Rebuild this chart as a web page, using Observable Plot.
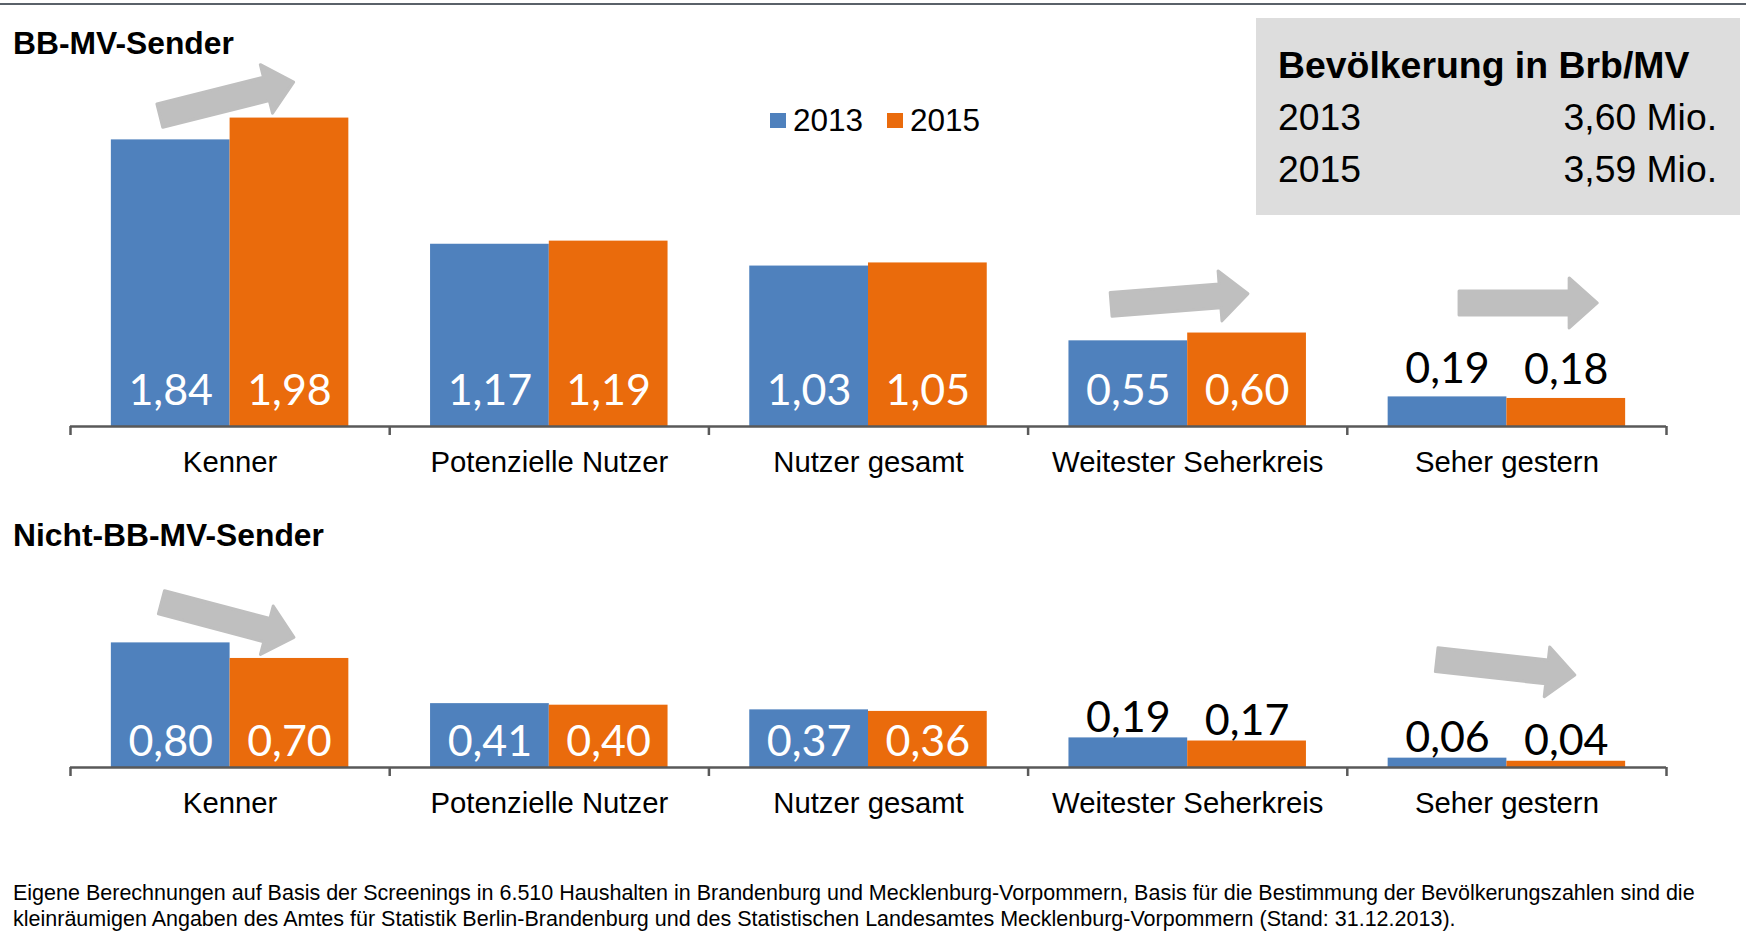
<!DOCTYPE html>
<html>
<head>
<meta charset="utf-8">
<script src="https://cdn.jsdelivr.net/npm/d3@7"></script>
<script src="https://cdn.jsdelivr.net/npm/@observablehq/plot@0.6"></script>
<style>
  body { margin: 0; background: #ffffff; }
  #root { position: relative; width: 1746px; height: 937px; overflow: hidden;
          font-family: "Liberation Sans", Arial, sans-serif; color: #000; }
  .abs { position: absolute; line-height: 1; white-space: nowrap; }
  svg.chart { position: absolute; left: 0; overflow: visible; }
</style>
</head>
<body>
<div id="root"></div>
<script>
// ---------------- data ----------------
const categories = ["Kenner", "Potenzielle Nutzer", "Nutzer gesamt", "Weitester Seherkreis", "Seher gestern"];
const years = ["2013", "2015"];
const bbmv2013 = [1.84, 1.17, 1.03, 0.55, 0.19];
const bbmv2015 = [1.98, 1.19, 1.05, 0.60, 0.18];
const nicht2013 = [0.80, 0.41, 0.37, 0.19, 0.06];
const nicht2015 = [0.70, 0.40, 0.36, 0.17, 0.04];
const popYears = ["2013", "2015"];
const popValues = ["3,60 Mio.", "3,59 Mio."];
const titleTop = "BB-MV-Sender";
const titleBottom = "Nicht-BB-MV-Sender";
const boxTitle = "Bevölkerung in Brb/MV";
const captionLines = [
  "Eigene Berechnungen auf Basis der Screenings in 6.510 Haushalten in Brandenburg und Mecklenburg-Vorpommern, Basis für die Bestimmung der Bevölkerungszahlen sind die",
  "kleinräumigen Angaben des Amtes für Statistik Berlin-Brandenburg und des Statistischen Landesamtes Mecklenburg-Vorpommern (Stand: 31.12.2013)."
];
// trend arrows (annotation): tail/tip value levels
const arrowsTop = [
  {category: "Kenner", from: 1.99, to: 2.21},
  {category: "Weitester Seherkreis", from: 0.78, to: 0.85},
  {category: "Seher gestern", from: 0.79, to: 0.79}
];
const arrowsBottom = [
  {category: "Kenner", from: 1.06, to: 0.83},
  {category: "Seher gestern", from: 0.69, to: 0.59}
];

// ---------------- style ----------------
const COLORS = {"2013": "#4F81BD", "2015": "#EA6B0C"};
const ARROW_FILL = "#BFBFBF";
const AXIS = "#595959";
const K = 155.77;            // px per unit (shared by both panels)
const PAD = 0.128;           // group padding inside a category slot
const arrowFrac = {"Kenner": [0.277, 0.705], "Weitester Seherkreis": [0.257, 0.695], "Seher gestern": [0.347, 0.789]};
const arrowFracBottom = {"Kenner": [0.282, 0.706], "Seher gestern": [0.277, 0.719]};

const root = document.getElementById("root");
const fmt = v => v.toFixed(2).replace(".", ",");

function addText(txt, {left, right, baseline, size, weight = "normal", family}) {
  const d = document.createElement("div");
  d.className = "abs";
  d.textContent = txt;
  d.style.fontSize = size + "px";
  d.style.fontWeight = weight;
  if (family) d.style.fontFamily = family;
  d.style.top = (baseline - 0.8465 * size) + "px";
  if (left != null) d.style.left = left + "px";
  if (right != null) d.style.right = right + "px";
  root.appendChild(d);
  return d;
}
function addBox(left, top, w, h, bg) {
  const d = document.createElement("div");
  d.style.cssText = `position:absolute;left:${left}px;top:${top}px;width:${w}px;height:${h}px;background:${bg};`;
  root.appendChild(d);
  return d;
}

function makeChart(v13, v15, arrows, frac, {top, height, y0, ymax, insideOffset, outsideOffset}) {
  const rows = [];
  categories.forEach((c, i) => {
    rows.push({category: c, year: "2013", value: v13[i], x1: i + PAD, x2: i + 0.5});
    rows.push({category: c, year: "2015", value: v15[i], x1: i + 0.5, x2: i + 1 - PAD});
  });
  const inside = rows.filter(d => d.value >= 0.3);
  const outside = rows.filter(d => d.value < 0.3);
  const marginTop = y0 - ymax * K;
  const plot = Plot.plot({
    width: 1746, height,
    marginLeft: 70, marginRight: 80, marginTop, marginBottom: height - y0,
    x: {type: "linear", domain: [0, categories.length], axis: null},
    y: {domain: [0, ymax], axis: null},
    style: {fontFamily: "Liberation Sans, Arial, sans-serif", background: "transparent", overflow: "visible"},
    marks: [
      Plot.rectY(rows, {x1: "x1", x2: "x2", y: "value", fill: d => COLORS[d.year]}),
      Plot.ruleY([0], {stroke: AXIS, strokeWidth: 2.5}),
      Plot.ruleX(d3.range(categories.length + 1), {x: d => d, y1: () => 0, y2: () => 0, insetBottom: -9, stroke: AXIS, strokeWidth: 2.5}),
      Plot.text(inside, {x: d => (d.x1 + d.x2) / 2, y: () => 0, text: d => fmt(d.value), fill: "white",
        fontFamily: "Lato, sans-serif", fontSize: 43, lineAnchor: "bottom", dy: -insideOffset}),
      Plot.text(outside, {x: d => (d.x1 + d.x2) / 2, y: "value", text: d => fmt(d.value), fill: "black",
        fontFamily: "Lato, sans-serif", fontSize: 43, lineAnchor: "bottom", dy: -outsideOffset}),
      Plot.text(categories, {x: (d, i) => i + 0.5, y: () => 0, text: d => d, fill: "black",
        fontSize: 29.3, lineAnchor: "bottom", dy: 45})
    ]
  });
  const svg = plot.tagName.toLowerCase() === "svg" ? plot : plot.querySelector("svg");
  svg.classList.add("chart");
  svg.style.top = top + "px";
  svg.style.position = "absolute";
  svg.style.left = "0px";
  root.appendChild(plot);

  // trend arrows positioned through Plot's own scales
  const sx = plot.scale("x"), sy = plot.scale("y");
  const ax = sx.apply ? v => sx.apply(v) : d3.scaleLinear(sx.domain, sx.range);
  const ay = sy.apply ? v => sy.apply(v) : d3.scaleLinear(sy.domain, sy.range);
  const g = d3.select(svg).append("g").attr("aria-label", "trend arrows");
  const SW = 3, shaft = 27 - SW, head = 53 - SW, headLen = 28;
  for (const a of arrows) {
    const i = categories.indexOf(a.category);
    const [f1, f2] = frac[a.category];
    const x1 = ax(i + f1), y1 = ay(a.from), x2 = ax(i + f2), y2 = ay(a.to);
    const L = Math.hypot(x2 - x1, y2 - y1) - SW / 2;
    const ang = Math.atan2(y2 - y1, x2 - x1) * 180 / Math.PI;
    const s = shaft / 2, h = head / 2;
    const pts = [[SW / 2, -s], [L - headLen, -s], [L - headLen, -h], [L, 0], [L - headLen, h], [L - headLen, s], [SW / 2, s]];
    g.append("path")
      .attr("d", "M" + pts.map(p => p.join(",")).join("L") + "Z")
      .attr("transform", `translate(${x1},${y1}) rotate(${ang})`)
      .attr("fill", ARROW_FILL).attr("stroke", ARROW_FILL)
      .attr("stroke-width", SW).attr("stroke-linejoin", "round");
  }
  return plot;
}

// top rule
addBox(0, 3, 1746, 2, "#5A6169");

makeChart(bbmv2013, bbmv2015, arrowsTop, arrowFrac, {top: 0, height: 490, y0: 426, ymax: 2.6, insideOffset: 22, outsideOffset: 14});
makeChart(nicht2013, nicht2015, arrowsBottom, arrowFracBottom, {top: 560, height: 270, y0: 207, ymax: 1.3, insideOffset: 12, outsideOffset: 6});

// titles
addText(titleTop, {left: 13, baseline: 55, size: 31.8, weight: "bold"});
addText(titleBottom, {left: 13, baseline: 546.5, size: 31.8, weight: "bold"});

// legend
const legendX = [770, 887];
years.forEach((y, i) => {
  addBox(legendX[i], 113, 16, 15, COLORS[y]);
  addText(y, {left: legendX[i] + 23, baseline: 132, size: 31.5});
});

// population box
addBox(1256, 18, 484, 197, "#DDDDDD");
addText(boxTitle, {left: 1278, baseline: 78.5, size: 37.4, weight: "bold"});
popYears.forEach((y, i) => {
  addText(y, {left: 1278, baseline: 130.7 + i * 52, size: 37.3});
  addText(popValues[i], {right: 1746 - 1717, baseline: 130.7 + i * 52, size: 37.3});
});

// caption
captionLines.forEach((t, i) => addText(t, {left: 13, baseline: 901.5 + i * 25.5, size: 21.5}));
</script>
</body>
</html>
